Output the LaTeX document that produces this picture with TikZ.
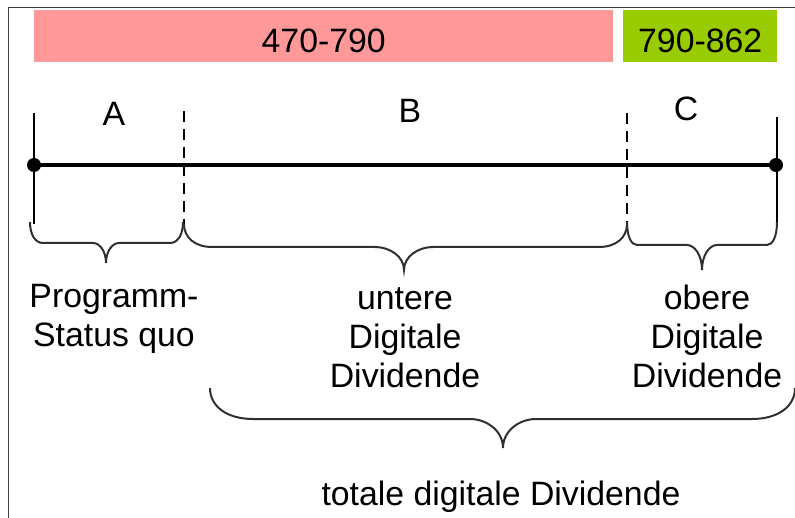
\documentclass[tikz,border=0pt]{standalone}
\usepackage{fontspec}
\setmainfont{Liberation Sans}
\definecolor{pinkbar}{HTML}{FF9999}
\definecolor{greenbar}{HTML}{99CC00}
\definecolor{framec}{HTML}{404040}
\definecolor{bracec}{HTML}{303030}
\newcommand\cbrace[8]{%
  \draw[brc] ({#1},{#3}) .. controls ({#1},{#3+0.6*(#4-#3)}) and ({#1+0.4*#7},{#4}) .. ({#1+#7},{#4})
    -- ({#5-#8},{#4}) .. controls ({#5-0.5*#8},{#4}) and ({#5},{#4+0.4*(#6-#4)}) .. ({#5},{#6})
    .. controls ({#5},{#4+0.4*(#6-#4)}) and ({#5+0.5*#8},{#4}) .. ({#5+#8},{#4})
    -- ({#2-#7},{#4}) .. controls ({#2-0.4*#7},{#4}) and ({#2},{#3+0.6*(#4-#3)}) .. ({#2},{#3});}
\begin{document}
\begin{tikzpicture}[x=1pt,y=-1pt,
  txt/.style={font=\fontsize{33.8}{39}\selectfont, inner sep=0pt, align=center, anchor=base},
  bar/.style={font=\fontsize{33.8}{39}\selectfont, inner sep=0pt, minimum height=52pt,
              anchor=north west, text height=32pt, text depth=0pt},
  brc/.style={draw=bracec, line width=2pt},
  tick/.style={draw=black, line width=2.8pt},
  dtick/.style={draw=black, line width=2.2pt, dash pattern=on 11pt off 7pt}]
\useasboundingbox (0,0) rectangle (795,518);
% frame
\draw[framec, line width=1.5pt] (8.5,518) -- (8.5,7.5) -- (795,7.5);
% range bars
\node[bar, fill=pinkbar, minimum width=579pt] (pb) at (34,10) {470-790};
\node[bar, fill=greenbar, minimum width=154pt] (gb) at (623,10) {790-862};
% axis
\coordinate (L) at (34,165);
\coordinate (R) at (776,165);
\coordinate (Ltop) at (34,113);
\coordinate (Lbot) at (34,224);
\coordinate (Rtop) at (777,117);
\coordinate (Rbot) at (777,222);
\coordinate (D1top) at (184,111);
\coordinate (D1bot) at (184,224);
\coordinate (D2top) at (627,113);
\coordinate (D2bot) at (627,224);
\draw[tick] (Ltop) -- (Lbot);
\draw[tick] (Rtop) -- (Rbot);
\draw[dtick] (D1top) -- (D1bot);
\draw[dtick] (D2top) -- (D2bot);
\draw[black, line width=3.4pt] (L) -- (R);
\fill[black] (L) circle (7pt);
\fill[black] (R) circle (7pt);
% segment letters
\node[txt] (lA) at (114,126) {A};
\node[txt] (lB) at (410,123) {B};
\node[txt] (lC) at (686,121) {C};
% braces
\cbrace{30}{183}{222}{243}{106}{263}{13}{13}
\cbrace{184}{627}{224}{247}{404}{270}{28}{29}
\cbrace{627}{777}{222}{245}{702}{270}{10}{15}
\cbrace{210}{795}{388}{419}{503}{448}{43}{33}
% labels
\node[txt] (tA) at (114,347) {Programm-\\Status quo};
\node[txt] (tB) at (405,388) {untere\\Digitale\\Dividende};
\node[txt] (tC) at (707,388) {obere\\Digitale\\Dividende};
\node[txt] (tot) at (501,505) {totale digitale Dividende};
\end{tikzpicture}
\end{document}
